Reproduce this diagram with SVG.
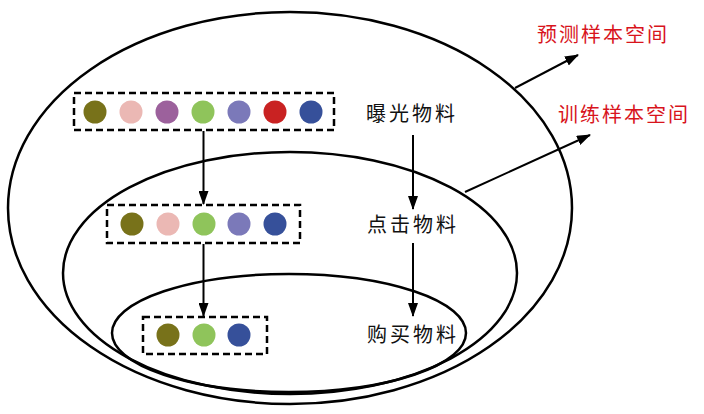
<svg xmlns="http://www.w3.org/2000/svg" width="704" height="414" viewBox="0 0 704 414">
<style>
.sp{fill:none;stroke:#000;stroke-width:2.5}
.box{fill:none;stroke:#000;stroke-width:2.5;stroke-dasharray:7 4}
.ln{stroke:#000;stroke-width:2;fill:none}
.lbl{font-family:"Noto Sans CJK SC","Noto Sans",sans-serif;font-size:20px;fill:#111;letter-spacing:3px}
.red{font-family:"Noto Sans CJK SC","Noto Sans",sans-serif;font-size:20px;fill:#d8141c;letter-spacing:2px}
.c1{fill:#78721a}.c2{fill:#ebb8b4}.c3{fill:#9c619c}.c4{fill:#8fc45b}.c5{fill:#7b79b9}.c6{fill:#c92222}.c7{fill:#36509a}
</style>
<defs>
<marker id="ah" markerWidth="14" markerHeight="10" refX="13" refY="5" orient="auto" markerUnits="userSpaceOnUse">
<path d="M0,0 L14,5 L0,10 Z" fill="#000"/>
</marker>
</defs>
<rect width="704" height="414" fill="#fff"/>
<g id="predict-space"><ellipse class="sp" cx="290" cy="208" rx="282" ry="196"/></g>
<g id="train-space"><ellipse class="sp" cx="290" cy="273" rx="227" ry="121"/></g>
<g id="buy-space"><ellipse class="sp" cx="289" cy="333" rx="177" ry="59"/></g>
<g id="exposure-box">
<rect class="box" x="74" y="93" width="260" height="37"/>
<circle class="c1" cx="95" cy="112" r="11.5"/><circle class="c2" cx="131" cy="112" r="11.5"/><circle class="c3" cx="167" cy="112" r="11.5"/><circle class="c4" cx="203" cy="112" r="11.5"/><circle class="c5" cx="239" cy="112" r="11.5"/><circle class="c6" cx="275" cy="112" r="11.5"/><circle class="c7" cx="311" cy="112" r="11.5"/>
</g>
<g id="click-box">
<rect class="box" x="107" y="205" width="193" height="38"/>
<circle class="c1" cx="132" cy="224" r="11.5"/><circle class="c2" cx="168" cy="224" r="11.5"/><circle class="c4" cx="204" cy="224" r="11.5"/><circle class="c5" cx="239" cy="224" r="11.5"/><circle class="c7" cx="275" cy="224" r="11.5"/>
</g>
<g id="buy-box">
<rect class="box" x="143" y="317" width="124" height="37"/>
<circle class="c1" cx="168" cy="335" r="11.5"/><circle class="c4" cx="204" cy="335" r="11.5"/><circle class="c7" cx="239" cy="335" r="11.5"/>
</g>
<g id="label-exposure"><text class="lbl" x="366" y="121">曝光物料</text></g>
<g id="label-click"><text class="lbl" x="367" y="232">点击物料</text></g>
<g id="label-buy"><text class="lbl" x="367" y="342">购买物料</text></g>
<g id="label-predict"><text class="red" x="537" y="42">预测样本空间</text></g>
<g id="label-train"><text class="red" x="558" y="122">训练样本空间</text></g>
<g id="connectors">
<line class="ln" x1="203.5" y1="131" x2="203.5" y2="204" marker-end="url(#ah)"/>
<line class="ln" x1="203.5" y1="244" x2="203.5" y2="316" marker-end="url(#ah)"/>
<line class="ln" x1="413" y1="135" x2="413" y2="209" marker-end="url(#ah)"/>
<line class="ln" x1="413" y1="243" x2="413" y2="316" marker-end="url(#ah)"/>
<line class="ln" x1="515" y1="88" x2="578" y2="55" marker-end="url(#ah)"/>
<line class="ln" x1="465" y1="192" x2="590" y2="135" marker-end="url(#ah)"/>
</g>
</svg>
